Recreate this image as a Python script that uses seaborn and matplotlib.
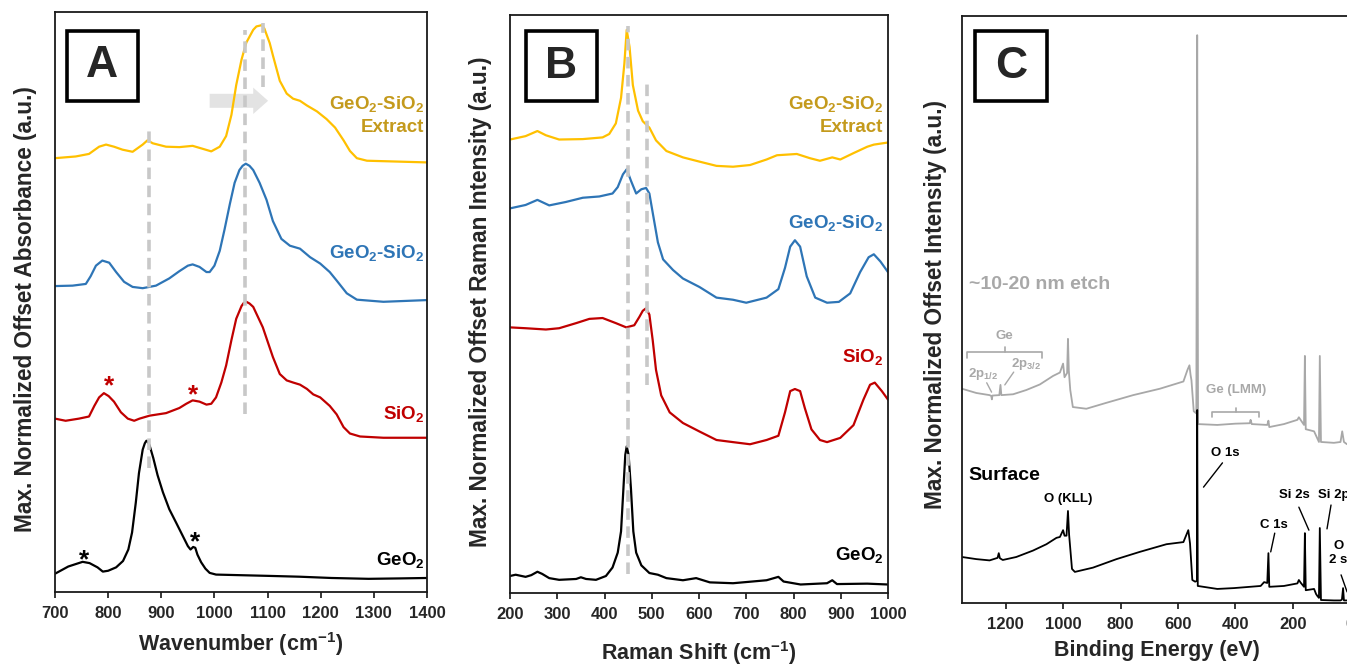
import matplotlib
matplotlib.use("Agg")
import matplotlib.pyplot as plt
from matplotlib.patches import Rectangle
import seaborn as sns

# ---------------- A : FTIR (wavenumber, offset absorbance a.u.) ----------------
ftir_geo2_x = [700, 725, 752, 765, 780, 790, 800, 815, 828, 838, 845, 852, 858, 865, 869, 872,
               875, 878, 885, 893, 903, 915, 928, 940, 950, 955, 960, 964, 968, 975, 983, 991,
               1003, 1035, 1100, 1160, 1220, 1290, 1350, 1400]
ftir_geo2_y = [43, 60, 71, 68, 58, 48, 50, 58, 73, 100, 140, 210, 280, 335, 350, 356,
               353, 345, 315, 275, 235, 195, 163, 133, 108, 100, 106, 104, 88, 70, 55, 45,
               41, 40, 38, 36, 33, 31, 32, 33]

ftir_sio2_x = [700, 720, 745, 764, 774, 783, 792, 801, 811, 824, 837, 849, 859, 878, 909, 934,
               947, 959, 972, 985, 994, 1003, 1013, 1022, 1032, 1041, 1051, 1055, 1060, 1066,
               1073, 1091, 1110, 1123, 1136, 1148, 1161, 1174, 1186, 1199, 1217, 1230, 1243,
               1255, 1274, 1318, 1400]
ftir_sio2_y = [408, 403, 408, 413, 438, 458, 468, 461, 448, 423, 408, 403, 408, 415, 421, 433,
               443, 451, 448, 441, 443, 458, 493, 533, 593, 643, 673, 680, 683, 679,
               671, 623, 553, 513, 498, 493, 488, 478, 465, 458, 438, 418, 388,
               373, 366, 363, 363]

ftir_mix_x = [700, 733, 758, 767, 777, 789, 802, 815, 830, 846, 865, 890, 915, 934, 950, 959,
              972, 985, 991, 1000, 1010, 1019, 1029, 1038, 1047, 1053, 1059, 1066, 1073, 1085,
              1098, 1110, 1126, 1142, 1161, 1180, 1199, 1217, 1230, 1249, 1268, 1318, 1400]
ftir_mix_y = [720, 721, 725, 743, 768, 780, 775, 753, 730, 718, 715, 721, 738, 755, 768, 771,
              765, 753, 753, 768, 803, 853, 913, 963, 993, 1003, 1008, 1003, 993, 963,
              923, 873, 831, 815, 808, 788, 773, 753, 733, 703, 688, 683, 687]

ftir_extract_x = [700, 739, 764, 783, 796, 811, 827, 846, 865, 874, 884, 909, 934, 959, 978, 994,
                  1010, 1022, 1032, 1041, 1051, 1060, 1073, 1079, 1089, 1094, 1104, 1110, 1123,
                  1136, 1148, 1161, 1174, 1193, 1211, 1227, 1243, 1255, 1268, 1287, 1400]
ftir_extract_y = [1021, 1025, 1031, 1048, 1053, 1048, 1041, 1036, 1053, 1063, 1056, 1048, 1047,
                  1050, 1043, 1037, 1048, 1073, 1123, 1193, 1253, 1293, 1323, 1331, 1334, 1326,
                  1292, 1263, 1203, 1173, 1161, 1156, 1145, 1131, 1113, 1093, 1063, 1038, 1021,
                  1015, 1011]

ftir_guide_x = [876, 1058, 1091]
ftir_guide_lo = [293, 418, 1188]
ftir_guide_hi = [1093, 1323, 1338]
ftir_star_x = [755, 964, 801, 959]
ftir_star_y = [88, 131, 498, 478]

# ---------------- B : Raman (shift, offset intensity a.u.) ----------------
raman_geo2_x = [200, 212, 233, 245, 258, 268, 283, 304, 340, 350, 361, 382, 403, 417, 428, 435,
                440, 444, 447, 451, 456, 461, 467, 478, 495, 513, 531, 566, 594, 623, 672, 743,
                768, 779, 815, 871, 882, 892, 956, 1000]
raman_geo2_y = [40, 43, 38, 42, 50, 45, 35, 31, 33, 37, 33, 31, 40, 60, 95, 145,
                245, 325, 345, 325, 245, 145, 95, 65, 47, 43, 35, 30, 35, 25, 23, 30,
                38, 27, 20, 23, 30, 21, 22, 20]

raman_sio2_x = [200, 233, 276, 304, 340, 368, 396, 424, 446, 463, 474, 481, 488, 495, 502, 509,
                520, 538, 566, 601, 637, 672, 708, 743, 768, 782, 793, 803, 814, 824, 838, 856,
                871, 899, 927, 948, 962, 972, 987, 1000]
raman_sio2_y = [625, 623, 620, 623, 635, 645, 647, 635, 625, 630, 650, 664, 670, 655, 595, 525,
                465, 425, 400, 380, 360, 355, 350, 360, 370, 425, 475, 480, 475, 435, 385, 360,
                355, 365, 395, 455, 490, 495, 475, 455]

raman_mix_x = [200, 233, 258, 283, 318, 354, 389, 417, 428, 439, 447, 456, 467, 478, 488, 495,
               502, 513, 524, 545, 566, 601, 637, 672, 700, 743, 768, 782, 793, 803, 814, 828,
               846, 871, 896, 920, 941, 959, 970, 984, 1000]
raman_mix_y = [905, 913, 925, 912, 920, 930, 933, 940, 955, 985, 997, 970, 940, 950, 953, 940,
               895, 825, 785, 760, 740, 720, 695, 690, 683, 695, 715, 765, 815, 830, 815, 745,
               695, 683, 685, 705, 755, 790, 797, 780, 755]

raman_extract_x = [200, 233, 258, 276, 304, 354, 396, 410, 424, 435, 442, 447, 453, 460, 471, 481,
                   495, 509, 531, 566, 601, 637, 672, 708, 743, 765, 807, 835, 856, 882, 899,
                   927, 956, 970, 1000]
raman_extract_y = [1067, 1075, 1087, 1077, 1067, 1068, 1072, 1080, 1105, 1165, 1245, 1325, 1285,
                   1195, 1135, 1110, 1095, 1065, 1040, 1025, 1015, 1005, 1003, 1007, 1020, 1030,
                   1033, 1023, 1017, 1025, 1020, 1035, 1050, 1055, 1060]

raman_guide_x = [449, 490]
raman_guide_lo = [45, 490]
raman_guide_hi = [1335, 1202]

# ---------------- C : XPS survey (binding energy, offset intensity a.u.) ----------------
xps_etch_x = [1352, 1302, 1256, 1250, 1248, 1246, 1222, 1218, 1215, 1174, 1128, 1081, 1035, 1011,
              1000, 995, 986, 983, 980, 975, 966, 919, 849, 756, 663, 581, 567, 560, 556, 553,
              545, 536, 533, 530, 463, 400, 350, 347, 343, 289, 285, 282, 231, 184, 179, 173,
              161, 158, 155, 126, 109, 106, 102, 57, 34, 28, 22, 12, -15]
xps_etch_y = [503, 493, 488, 486, 478, 487, 488, 512, 488, 490, 500, 513, 533, 541,
              562, 530, 540, 620, 545, 500, 460, 456, 470, 488, 503, 520, 547, 558, 535, 523,
              450, 445, 1333, 420, 418, 421, 422, 430, 420, 418, 428, 413, 420, 430, 436, 430,
              418, 580, 408, 403, 378, 580, 378, 376, 378, 403, 378, 373, 373]

xps_surface_x = [1352, 1302, 1256, 1228, 1224, 1220, 1210, 1163, 1105, 1058, 1023, 1011, 1000, 995,
                 988, 983, 979, 969, 959, 896, 814, 733, 640, 581, 564, 558, 550, 540, 534, 533,
                 531, 463, 405, 312, 300, 289, 285, 282, 231, 184, 179, 173, 161, 158, 155, 126,
                 119, 114, 109, 106, 102, 57, 34, 29, 25, 22, 12, -15]
xps_surface_y = [108, 103, 100, 106, 117, 105, 101, 108, 123, 138, 153, 155, 171, 158,
                 158, 216, 160, 80, 73, 83, 103, 120, 138, 143, 171, 140, 54, 50, 52, 453,
                 40, 33, 35, 40, 49, 47, 117, 38, 40, 46, 54, 48, 38, 164, 30, 33,
                 21, 16, 12, 176, 7, 6, 6, 8, 35, 6, 6, 6]

W, H = 1347, 665
LINE = {"yellow": "#ffc000", "blue": "#2e75b6", "red": "#c00000", "black": "#000000"}
TEXT = {"yellow": "#c49a1c", "blue": "#2e75b6", "red": "#c00000", "black": "#000000"}
GUIDE = "#c8c8c8"
ETCH = "#a8a8a8"

sns.set_style("ticks")
plt.rcParams["font.family"] = ["Liberation Sans", "DejaVu Sans"]
plt.rcParams["font.weight"] = "bold"
plt.rcParams["mathtext.fontset"] = "custom"
plt.rcParams["mathtext.rm"] = "Liberation Sans:bold"
plt.rcParams["mathtext.it"] = "Liberation Sans:bold"
plt.rcParams["mathtext.bf"] = "Liberation Sans:bold"
plt.rcParams["mathtext.default"] = "bf"

fig = plt.figure(figsize=(W / 100, H / 100), dpi=100)


def px_axes(left, top, right, bottom):
    return fig.add_axes([left / W, 1 - bottom / H, (right - left) / W, (bottom - top) / H])


def trace(ax, x, y, color, lw=1.6):
    sns.lineplot(x=x, y=y, ax=ax, color=color, lw=lw, sort=False, estimator=None)


def style(ax, letter, box, ylabel, ylab_xy, xlabel, xlab_xy):
    ax.set_yticks([])
    ax.tick_params(axis="x", labelsize=12, length=4, width=1.3, pad=6, direction="out",
                   bottom=True, top=False)
    for t in ax.get_xticklabels():
        t.set_fontweight("bold")
    for s in ax.spines.values():
        s.set_linewidth(1.3)
        s.set_color("#1a1a1a")
    ax.set_ylabel(ylabel, fontsize=16.3, fontweight="bold")
    ax.yaxis.set_label_coords(*ylab_xy)
    ax.set_xlabel(xlabel, fontsize=15.5, fontweight="bold")
    ax.xaxis.set_label_coords(*xlab_xy)
    x0, y0, x1, y1 = box
    ax.add_patch(Rectangle((x0, y0), x1 - x0, y1 - y0, transform=ax.transAxes, fill=True,
                           facecolor="white", edgecolor="black", lw=2.6, zorder=5))
    ax.text((x0 + x1) / 2, (y0 + y1) / 2, letter, transform=ax.transAxes, fontsize=32,
            fontweight="bold", ha="center", va="center", zorder=6)


# ---------- panel A ----------
axA = px_axes(55, 12, 427, 592)
axA.arrow(991, 1156, 110, 0, width=33, head_width=62, head_length=28, length_includes_head=True,
          color="#e3e3e3", lw=0, zorder=1)
trace(axA, ftir_geo2_x, ftir_geo2_y, LINE["black"])
trace(axA, ftir_sio2_x, ftir_sio2_y, LINE["red"])
trace(axA, ftir_mix_x, ftir_mix_y, LINE["blue"])
trace(axA, ftir_extract_x, ftir_extract_y, LINE["yellow"])
for gx, lo, hi in zip(ftir_guide_x, ftir_guide_lo, ftir_guide_hi):
    axA.plot([gx, gx], [lo, hi], color=GUIDE, lw=2.6, ls=(0, (3.2, 1.8)), zorder=3)
for i, (sx, sy) in enumerate(zip(ftir_star_x, ftir_star_y)):
    axA.text(sx, sy - 14, "*", fontsize=19, fontweight="bold", ha="center", va="center",
             color=LINE["black"] if i < 2 else LINE["red"])
axA.set_xlim(700, 1400)
axA.set_ylim(0, 1365)
axA.set_xticks(range(700, 1401, 100))
lbl = dict(fontsize=13.5, fontweight="bold", ha="right", va="center")
axA.text(1395, 1148, "GeO$_2$-SiO$_2$", color=TEXT["yellow"], **lbl)
axA.text(1395, 1093, "Extract", color=TEXT["yellow"], **lbl)
axA.text(1395, 798, "GeO$_2$-SiO$_2$", color=TEXT["blue"], **lbl)
axA.text(1395, 418, "SiO$_2$", color=TEXT["red"], **lbl)
axA.text(1395, 75, "GeO$_2$", color=TEXT["black"], **lbl)
style(axA, "A", (0.032, 0.847, 0.223, 0.967), "Max. Normalized Offset Absorbance (a.u.)",
      (-0.048, 0.488), "Wavenumber (cm$^{-1}$)", (0.5, -0.066))

# ---------- panel B ----------
axB = px_axes(510, 15, 888, 593)
trace(axB, raman_geo2_x, raman_geo2_y, LINE["black"])
trace(axB, raman_sio2_x, raman_sio2_y, LINE["red"])
trace(axB, raman_mix_x, raman_mix_y, LINE["blue"])
trace(axB, raman_extract_x, raman_extract_y, LINE["yellow"])
for gx, lo, hi in zip(raman_guide_x, raman_guide_lo, raman_guide_hi):
    axB.plot([gx, gx], [lo, hi], color=GUIDE, lw=2.6, ls=(0, (3.2, 1.8)), zorder=3)
axB.set_xlim(200, 1000)
axB.set_ylim(0, 1360)
axB.set_xticks(range(200, 1001, 100))
axB.text(990, 1150, "GeO$_2$-SiO$_2$", color=TEXT["yellow"], **lbl)
axB.text(990, 1095, "Extract", color=TEXT["yellow"], **lbl)
axB.text(990, 870, "GeO$_2$-SiO$_2$", color=TEXT["blue"], **lbl)
axB.text(990, 555, "SiO$_2$", color=TEXT["red"], **lbl)
axB.text(990, 90, "GeO$_2$", color=TEXT["black"], **lbl)
style(axB, "B", (0.042, 0.851, 0.230, 0.972), "Max. Normalized Offset Raman Intensity (a.u.)",
      (-0.048, 0.504), "Raman Shift (cm$^{-1}$)", (0.5, -0.080))

# ---------- panel C ----------
axC = px_axes(962, 16, 1356, 603)
trace(axC, xps_etch_x, xps_etch_y, ETCH, lw=1.3)
trace(axC, xps_surface_x, xps_surface_y, LINE["black"], lw=1.3)
axC.set_xlim(1352, -20)
axC.set_ylim(0, 1378)
axC.set_xticks(range(1200, -1, -200))

axC.text(1326, 747, "~10-20 nm etch", color=ETCH, fontsize=14, fontweight="bold", va="center")
axC.text(1329, 300, "Surface", color="black", fontsize=14, fontweight="bold", va="center")
small = dict(fontsize=9.5, fontweight="bold", ha="center", va="center")
# Ge 2p bracket
axC.text(1203, 627, "Ge", color=ETCH, **small)
axC.plot([1333, 1333, 1074, 1074], [575, 589, 589, 575], color=ETCH, lw=1.2)
axC.plot([1203, 1203], [589, 601], color=ETCH, lw=1.2)
axC.text(1280, 538, "2p$_{1/2}$", color=ETCH, **small)
axC.plot([1266, 1249], [517, 495], color=ETCH, lw=1.0)
axC.text(1130, 561, "2p$_{3/2}$", color=ETCH, **small)
axC.plot([1172, 1203], [542, 512], color=ETCH, lw=1.0)
# Ge LMM bracket
axC.text(399, 500, "Ge (LMM)", color=ETCH, **small)
axC.plot([480, 480, 319, 319], [437, 448, 448, 437], color=ETCH, lw=1.2)
axC.plot([399, 399], [448, 458], color=ETCH, lw=1.2)
# surface peaks
axC.text(983, 244, "O (KLL)", color="black", **small)
axC.text(434, 352, "O 1s", color="black", **small)
axC.plot([445, 511], [329, 272], color="black", lw=1.0)
axC.text(266, 183, "C 1s", color="black", **small)
axC.plot([263, 277], [164, 120], color="black", lw=1.0)
axC.text(196, 254, "Si 2s", color="black", **small)
axC.plot([179, 144], [225, 171], color="black", lw=1.0)
axC.text(112, 254, "Si 2p", color="black", fontsize=9.5, fontweight="bold", ha="left", va="center")
axC.plot([67, 81], [230, 174], color="black", lw=1.0)
axC.text(57, 134, "O", color="black", fontsize=9.5, fontweight="bold", ha="left", va="center")
axC.text(74, 101, "2 s", color="black", fontsize=9.5, fontweight="bold", ha="left", va="center")
axC.plot([32, 11], [66, 26], color="black", lw=1.0)
style(axC, "C", (0.033, 0.855, 0.216, 0.974), "Max. Normalized Offset Intensity (a.u.)",
      (-0.038, 0.508), "Binding Energy (eV)", (0.495, -0.063))

fig.savefig("out.png", dpi=100, facecolor="white")
